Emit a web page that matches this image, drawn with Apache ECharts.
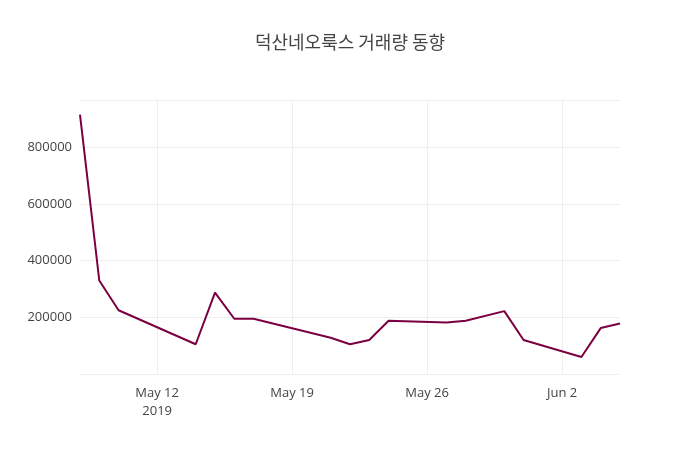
<!DOCTYPE html>
<html><head><meta charset="utf-8">
<script src="https://cdn.jsdelivr.net/npm/echarts@6/dist/echarts.min.js"></script>
<style>html,body{margin:0;padding:0;background:#fff}</style></head>
<body><div id="c" style="width:700px;height:450px"></div>
<script>
const dates = ['2019-05-08','2019-05-09','2019-05-10','2019-05-14','2019-05-15','2019-05-16','2019-05-17','2019-05-21','2019-05-22','2019-05-23','2019-05-24','2019-05-27','2019-05-28','2019-05-30','2019-05-31','2019-06-03','2019-06-04','2019-06-05'];
const volumes = [915000,330000,225000,105000,287000,195000,195000,128000,105000,120000,188000,182000,188000,222000,120000,60000,162000,178000];
const tickDates = ['2019-05-12','2019-05-19','2019-05-26','2019-06-02'];
const tickLabels = ['May 12\n2019','May 19','May 26','Jun 2'];
const base = Date.parse('2019-05-05T00:00:00Z');
const day = s => Math.round((Date.parse(s + 'T00:00:00Z') - base) / 86400000);
const ticks = tickDates.map(day);
const chart = echarts.init(document.getElementById('c'));
chart.setOption({
  animation:false,
  title:{text:'덕산네오룩스 거래량 동향',left:'center',top:28,textStyle:{fontFamily:'Noto Sans CJK KR',fontSize:18,fontWeight:'normal',color:'#444'}},
  grid:{left:80,right:80,top:100,bottom:76},
  xAxis:{type:'value',min:day('2019-05-08'),max:day('2019-06-05'),
    axisLine:{show:false},axisTick:{show:false,customValues:ticks},
    splitLine:{show:false},
    axisLabel:{customValues:ticks,color:'#444',fontSize:13,fontFamily:'Open Sans',margin:10,lineHeight:18,
      formatter:v=>{const i=ticks.indexOf(v);return i<0?'':tickLabels[i];}}},
  yAxis:{type:'value',min:0,max:967000,interval:200000,
    axisLine:{show:false},axisTick:{show:false},
    splitLine:{lineStyle:{color:'#eee'}},
    axisLabel:{showMinLabel:false,showMaxLabel:false,color:'#444',fontSize:13,fontFamily:'Open Sans',margin:8,formatter:v=>v===0?'':String(v)}},
  series:[{type:'line',data:dates.map((d,i)=>[day(d),volumes[i]]),showSymbol:false,z:3,
    lineStyle:{color:'#7b0041',width:2},itemStyle:{color:'#7b0041'},
    markLine:{silent:true,symbol:'none',label:{show:false},lineStyle:{color:'#eee',type:'solid',width:1},z:1,
      data:ticks.map(t=>({xAxis:t}))}}]
});
</script></body></html>
